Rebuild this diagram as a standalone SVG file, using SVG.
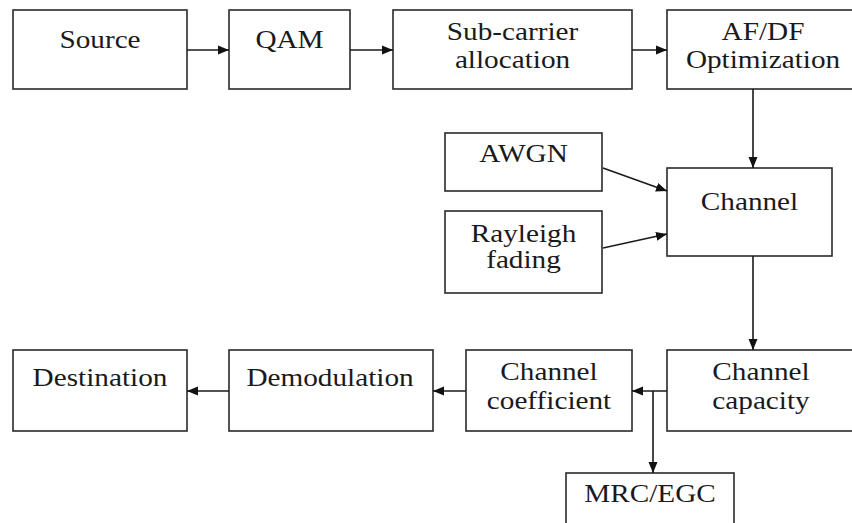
<svg xmlns="http://www.w3.org/2000/svg" width="852" height="523" viewBox="0 0 852 523">
<style>
.box{fill:#fff;stroke:#2a2a2a;stroke-width:1.6}
.t{font-size:25px;fill:#1a1a1a;text-anchor:middle}
.c{fill:none;stroke:#1a1a1a;stroke-width:1.6}
</style>
<defs>
<marker id="ah" markerUnits="userSpaceOnUse" markerWidth="12" markerHeight="10" refX="11" refY="5" orient="auto">
<path d="M0,0.5 L11,5 L0,9.5 Z" fill="#111"/>
</marker>
</defs>
<rect width="852" height="523" fill="#fff"/>
<g font-family="Liberation Serif, Times New Roman, DejaVu Serif, serif">
<g id="source"><rect class="box" x="13" y="10" width="174" height="79"/><text class="t" transform="translate(100,48) scale(1.17,1)">Source</text></g>
<g id="qam"><rect class="box" x="229" y="10" width="121" height="79"/><text class="t" transform="translate(289.5,48) scale(1.17,1)">QAM</text></g>
<g id="subcarrier"><rect class="box" x="393" y="10" width="239" height="79"/><text class="t" transform="translate(512.5,40) scale(1.17,1)">Sub-carrier</text><text class="t" transform="translate(512.5,68) scale(1.17,1)">allocation</text></g>
<g id="afdf"><rect class="box" x="667" y="10" width="194" height="79"/><text class="t" transform="translate(763,40) scale(1.17,1)">AF/DF</text><text class="t" transform="translate(763,68) scale(1.17,1)">Optimization</text></g>
<g id="awgn"><rect class="box" x="445" y="133" width="157" height="58"/><text class="t" transform="translate(523.5,162) scale(1.17,1)">AWGN</text></g>
<g id="rayleigh"><rect class="box" x="445" y="211" width="157" height="82"/><text class="t" transform="translate(523.5,242) scale(1.17,1)">Rayleigh</text><text class="t" transform="translate(523.5,268) scale(1.17,1)">fading</text></g>
<g id="channel"><rect class="box" x="667" y="168" width="165" height="88"/><text class="t" transform="translate(749.5,210) scale(1.17,1)">Channel</text></g>
<g id="capacity"><rect class="box" x="667" y="350" width="194" height="81"/><text class="t" transform="translate(761,380) scale(1.17,1)">Channel</text><text class="t" transform="translate(761,409) scale(1.17,1)">capacity</text></g>
<g id="coefficient"><rect class="box" x="466" y="350" width="166" height="81"/><text class="t" transform="translate(549,380) scale(1.17,1)">Channel</text><text class="t" transform="translate(549,409) scale(1.17,1)">coefficient</text></g>
<g id="demodulation"><rect class="box" x="229" y="350" width="204" height="81"/><text class="t" transform="translate(330,386) scale(1.17,1)">Demodulation</text></g>
<g id="destination"><rect class="box" x="13" y="350" width="174" height="81"/><text class="t" transform="translate(100,386) scale(1.17,1)">Destination</text></g>
<g id="mrcegc"><rect class="box" x="566" y="473" width="168" height="60"/><text class="t" transform="translate(650,502) scale(1.17,1)">MRC/EGC</text></g>
</g>
<g id="connectors">
<line class="c" x1="187" y1="50" x2="229" y2="50" marker-end="url(#ah)"/>
<line class="c" x1="350" y1="50" x2="393" y2="50" marker-end="url(#ah)"/>
<line class="c" x1="632" y1="50" x2="667" y2="50" marker-end="url(#ah)"/>
<line class="c" x1="753" y1="89" x2="753" y2="168" marker-end="url(#ah)"/>
<line class="c" x1="603" y1="168" x2="667" y2="191" marker-end="url(#ah)"/>
<line class="c" x1="603" y1="248" x2="667" y2="234" marker-end="url(#ah)"/>
<line class="c" x1="753" y1="256" x2="753" y2="350" marker-end="url(#ah)"/>
<line class="c" x1="667" y1="391" x2="632" y2="391" marker-end="url(#ah)"/>
<line class="c" x1="653" y1="391" x2="653" y2="473" marker-end="url(#ah)"/>
<line class="c" x1="466" y1="391" x2="433" y2="391" marker-end="url(#ah)"/>
<line class="c" x1="229" y1="391" x2="187" y2="391" marker-end="url(#ah)"/>
</g>
</svg>
